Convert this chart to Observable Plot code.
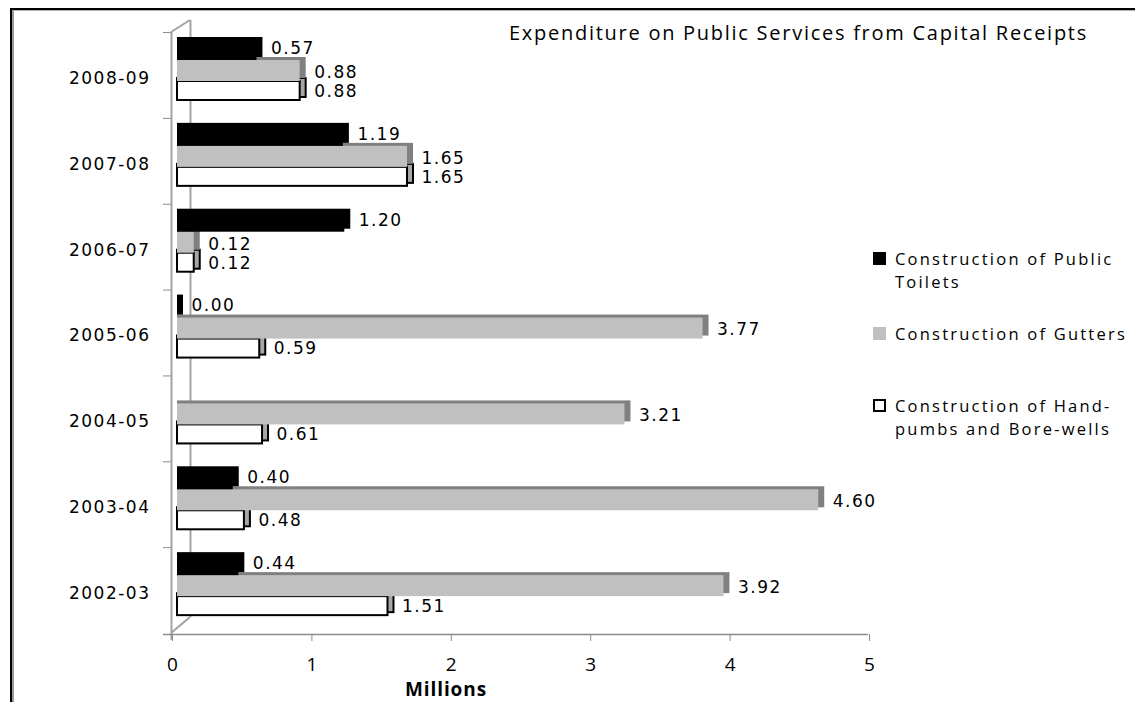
<!DOCTYPE html>
<html>
<head>
<meta charset="utf-8">
<script src="https://cdn.jsdelivr.net/npm/d3@7"></script>
<script src="https://cdn.jsdelivr.net/npm/@observablehq/plot@0.6"></script>
<style>
  html, body { margin: 0; padding: 0; background: #fff; }
  #wrap { position: relative; width: 1135px; height: 702px; overflow: hidden; background: #fff; }
  #wrap svg { position: absolute; left: 0; top: 0; }
  .frameOuter { position: absolute; left: 10px; top: 8px; width: 1200px; height: 800px; border-left: 2px solid #000; border-top: 2px solid #000; }
  .frameInner { position: absolute; left: 12px; top: 10px; width: 1200px; height: 800px; border-left: 2px solid #9a9a9a; border-top: 1px solid #b0b0b0; }
  .txt { position: absolute; white-space: nowrap; line-height: 1; color: #000; font-family: "Open Sans", sans-serif; }
  .leg { position: absolute; white-space: nowrap; line-height: 23px; color: #000; font-family: "Open Sans", sans-serif; font-size: 16.5px; }
  .sq { position: absolute; width: 13px; height: 13px; box-sizing: border-box; }
  g[aria-label="text"] text, g[aria-label="y-axis tick label"] text { letter-spacing: 1.5px; }
</style>
</head>
<body>
<div id="wrap">
  <div class="frameOuter"></div>
  <div class="frameInner"></div>
</div>
<script>
// ---------- data ----------
const years = ["2008-09", "2007-08", "2006-07", "2005-06", "2004-05", "2003-04", "2002-03"];
const toilets   = [0.57, 1.19, 1.20, 0.00, null, 0.40, 0.44];
const gutters   = [0.88, 1.65, 0.12, 3.77, 3.21, 4.60, 3.92];
const handpumps = [0.88, 1.65, 0.12, 0.59, 0.61, 0.48, 1.51];
const xTicks = [0, 1, 2, 3, 4, 5];
const seriesNames = ["Construction of Public Toilets", "Construction of Gutters", "Construction of Hand-pumbs and Bore-wells"];
const legendLines = [["Construction of Public", "Toilets"], ["Construction of Gutters"], ["Construction of Hand-", "pumbs and Bore-wells"]];
const titleText = "Expenditure on Public Services from Capital Receipts";
const xLabel = "Millions";

// ---------- styles ----------
const BW = (633 - 32) / 7;
const seriesValues = [toilets, gutters, handpumps];
const seriesStyle = [
  {top: 8,  h: 20, front: "#000000", back: "#000000", stroke: "none", sw: 0, labelDy: -27},
  {top: 28, h: 21, front: "#c0c0c0", back: "#808080", stroke: "none", sw: 0, labelDy: -3},
  {top: 49, h: 19, front: "#ffffff", back: "#a6a6a6", stroke: "#000", sw: 2, labelDy: 16}
];
const wallColor = "#a3a3a3";
const axisColor = "#8c8c8c";

const marks = [];
// wall
marks.push(Plot.ruleX([0], {dx: -6, insetBottom: -7, stroke: wallColor, strokeWidth: 2}));
marks.push(Plot.ruleX([0], {dx: 13, insetTop: -12, insetBottom: 16, stroke: wallColor, strokeWidth: 2}));
// floor
marks.push(Plot.ruleY([years[years.length - 1]], {dy: BW / 2 + 1, insetLeft: -14, insetRight: 6, stroke: axisColor, strokeWidth: 1.5}));

// bars, drawn back (bottom series) to front (top series)
const order = [2, 1, 0];
const datasets = seriesValues.map((vals) => years.map((year, i) => ({year, value: vals[i]})).filter(d => d.value != null));
for (const k of order) {
  const s = seriesStyle[k];
  const data = datasets[k];
  const ib = BW - s.top - s.h;
  marks.push(Plot.barX(data, {y: "year", x1: d => 0, x2: "value", insetTop: s.top, insetBottom: ib, insetRight: -6, dy: -3,
    fill: s.back, stroke: s.stroke, strokeWidth: s.sw}));
  marks.push(Plot.barX(data, {y: "year", x1: d => 0, x2: "value", insetTop: s.top, insetBottom: ib,
    fill: s.front, stroke: s.stroke, strokeWidth: s.sw}));
}
// value labels
for (const k of order) {
  const s = seriesStyle[k];
  marks.push(Plot.text(datasets[k], {x: "value", y: "year", text: d => d.value.toFixed(2), textAnchor: "start",
    dx: 14, dy: s.labelDy, fontSize: 17, fontFamily: "DejaVu Sans", fill: "#000"}));
}
// axes
marks.push(Plot.axisY({tickSize: 0, tickPadding: 27, dy: 3, fontSize: 17, fontFamily: "DejaVu Sans", label: null}));
marks.push(Plot.axisY({tickSize: 8, tickFormat: () => "", dx: -6, dy: -BW / 2, stroke: axisColor, label: null}));
marks.push(Plot.axisX({ticks: xTicks, tickSize: 7, tickFormat: () => "", dx: -5, dy: 1, stroke: axisColor, label: null}));
marks.push(Plot.axisX({ticks: xTicks, tickSize: 0, tickPadding: 24, dx: -5, tickFormat: d3.format("d"), fontSize: 19, fontFamily: "Open Sans", label: null}));

const chart = Plot.plot({
  width: 1135, height: 702,
  marginLeft: 177, marginRight: 261, marginTop: 32, marginBottom: 69,
  x: {domain: [0, 5]},
  y: {domain: years, padding: 0, round: false},
  style: {background: "transparent", overflow: "visible"},
  marks
});
const wrap = document.getElementById("wrap");
wrap.appendChild(chart);

// wall diagonals (from the plot's scales)
const x0 = chart.scale("x").apply(0);
const [yTop, yBot] = chart.scale("y").range;
const svg = d3.select(chart);
svg.append("path").attr("d", `M${x0 + 13},${yTop - 12}L${x0 - 6},${yTop}`).attr("stroke", wallColor).attr("stroke-width", 2).attr("fill", "none");
svg.append("path").attr("d", `M${x0 + 13},${yBot - 16}L${x0 - 6},${yBot}`).attr("stroke", wallColor).attr("stroke-width", 2).attr("fill", "none");

// ---------- HTML text: title, legend, axis label ----------
const canvas = document.createElement("canvas");
const ctx = canvas.getContext("2d");
function spacingFor(el, text, target) {
  const cs = getComputedStyle(el);
  ctx.font = `${cs.fontWeight} ${cs.fontSize} ${cs.fontFamily}`;
  const w = ctx.measureText(text).width;
  return (target - w) / text.length;
}
function addText(text, left, top, size, weight) {
  const el = document.createElement("div");
  el.className = "txt";
  el.textContent = text;
  el.style.left = left + "px";
  el.style.top = top + "px";
  el.style.fontSize = size + "px";
  if (weight) el.style.fontWeight = weight;
  wrap.appendChild(el);
  return el;
}
const t = addText(titleText, 509, 23, 20);
t.style.letterSpacing = spacingFor(t, titleText, 579) + "px";

const m = addText(xLabel, 405, 680, 19, "bold");
m.style.letterSpacing = spacingFor(m, xLabel, 82) + "px";

const legendTops = [247, 322, 394];
const sqTops = [252, 327, 399];
const sqFill = ["#000", "#c0c0c0", "#fff"];
const legEls = [];
legendLines.forEach((lines, i) => {
  const sq = document.createElement("div");
  sq.className = "sq";
  sq.style.left = "873px";
  sq.style.top = sqTops[i] + "px";
  sq.style.background = sqFill[i];
  if (i === 2) sq.style.border = "2px solid #000";
  sq.title = seriesNames[i];
  wrap.appendChild(sq);
  const el = document.createElement("div");
  el.className = "leg";
  el.style.left = "895px";
  el.style.top = legendTops[i] + "px";
  lines.forEach((line, j) => {
    if (j > 0) el.appendChild(document.createElement("br"));
    el.appendChild(document.createTextNode(line));
  });
  wrap.appendChild(el);
  legEls.push(el);
});
const legSpacing = spacingFor(legEls[1], "Construction of Gutters", 232);
legEls.forEach(el => el.style.letterSpacing = legSpacing + "px");
</script>
</body>
</html>
